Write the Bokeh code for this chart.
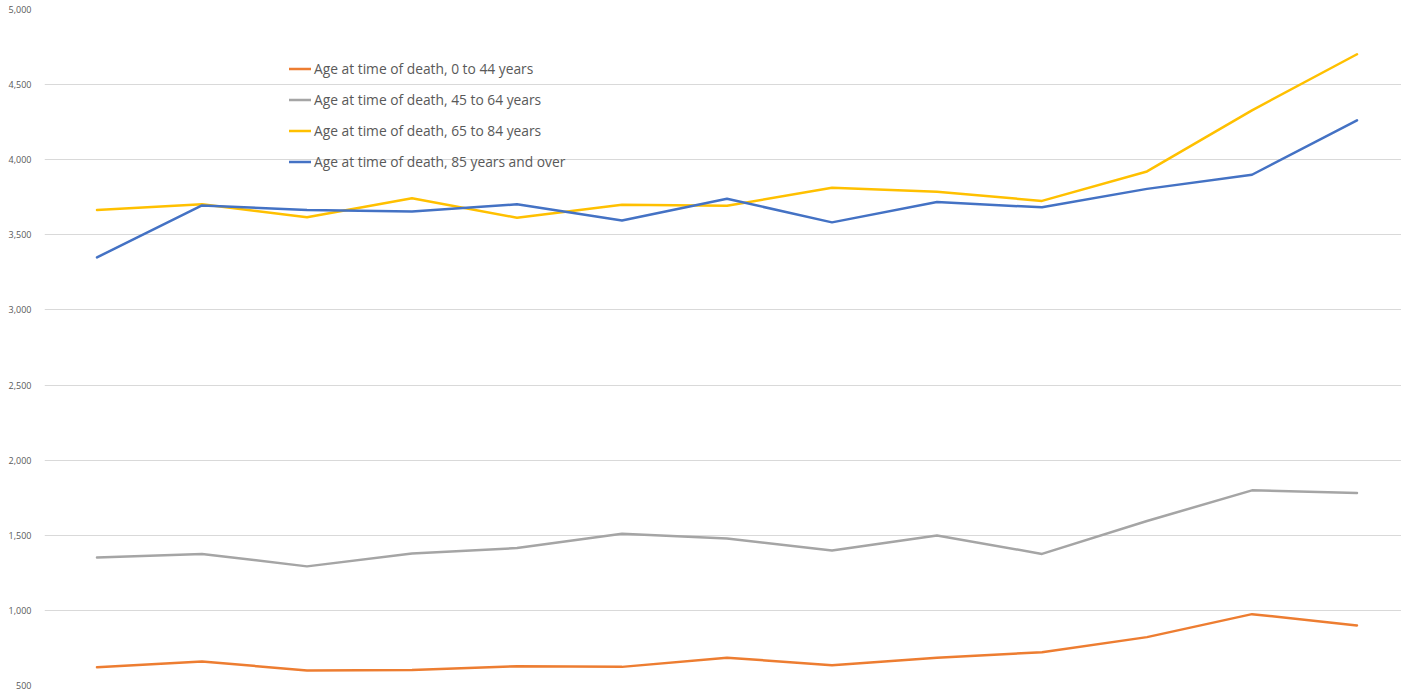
from bokeh.plotting import figure
from bokeh.models import Range1d, FixedTicker, NumeralTickFormatter, Legend, LegendItem
from bokeh.embed import file_html
from bokeh.resources import INLINE

periods = list(range(1, 14))
age_0_44 = [622, 660, 600, 603, 628, 624, 685, 635, 685, 722, 822, 975, 900]
age_45_64 = [1352, 1376, 1293, 1379, 1415, 1510, 1479, 1399, 1499, 1376, 1595, 1799, 1782]
age_65_84 = [3665, 3703, 3617, 3743, 3614, 3700, 3693, 3813, 3786, 3726, 3922, 4329, 4702]
age_85_plus = [3350, 3696, 3665, 3656, 3703, 3596, 3740, 3583, 3718, 3683, 3806, 3900, 4262]
y_ticks = [500, 1000, 1500, 2000, 2500, 3000, 3500, 4000, 4500, 5000]

series = [
    ("Age at time of death, 0 to 44 years", age_0_44, "#ED7D31"),
    ("Age at time of death, 45 to 64 years", age_45_64, "#A5A5A5"),
    ("Age at time of death, 65 to 84 years", age_65_84, "#FFC000"),
    ("Age at time of death, 85 years and over", age_85_plus, "#4472C4"),
]

p = figure(width=1401, height=692, output_backend="svg", toolbar_location=None,
           x_range=Range1d(0.5, 13.424), y_range=Range1d(500, 5000),
           min_border_left=44, min_border_right=0, min_border_top=9, min_border_bottom=7)
p.outline_line_color = None
p.background_fill_color = "white"
p.border_fill_color = "white"

p.xaxis.visible = False
p.xgrid.grid_line_color = None
p.ygrid.grid_line_color = "#D9D9D9"
p.ygrid.grid_line_width = 1
p.ygrid.ticker = FixedTicker(ticks=y_ticks)

p.yaxis.ticker = FixedTicker(ticks=y_ticks)
p.yaxis.formatter = NumeralTickFormatter(format="0,0")
p.yaxis.axis_line_color = None
p.yaxis.major_tick_line_color = None
p.yaxis.minor_tick_line_color = None
p.yaxis.major_label_text_font = "Open Sans"
p.yaxis.major_label_text_font_size = "9px"
p.yaxis.major_label_text_color = "#595959"
p.yaxis.major_label_standoff = 7

items = []
for label, vals, color in series:
    r = p.line(periods, vals, line_color=color, line_width=2.5, line_join="round", line_cap="round")
    items.append(LegendItem(label=label, renderers=[r]))

legend = Legend(items=items, location=(245, 513), orientation="vertical",
                label_text_font="Open Sans", label_text_font_size="13.8px",
                label_text_color="#595959", background_fill_alpha=0,
                border_line_color=None, padding=0, margin=0, spacing=10,
                label_height=21, glyph_height=21, glyph_width=22, label_standoff=3)
p.add_layout(legend, "center")

open("out.html", "w").write(file_html(p, INLINE))
